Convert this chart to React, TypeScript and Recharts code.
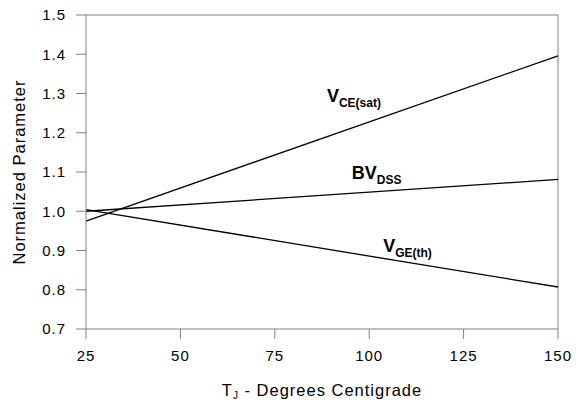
import { LineChart, Line, XAxis, YAxis, ReferenceLine, ReferenceDot, Label } from "recharts";

const temps = [25, 150];
const vceSat = [0.975, 1.396];
const bvDss = [1.0, 1.081];
const vgeTh = [1.004, 0.807];

const xTicks = [25, 50, 75, 100, 125, 150];
const yTicks = [0.7, 0.8, 0.9, 1.0, 1.1, 1.2, 1.3, 1.4, 1.5];

// curve labels: main text, subscript, anchor in data units
const curveLabels = [
  { main: "V", sub: "CE(sat)", t: 88.8, v: 1.278 },
  { main: "BV", sub: "DSS", t: 95.4, v: 1.082 },
  { main: "V", sub: "GE(th)", t: 103.7, v: 0.896 },
];

const data = temps.map((t, i) => ({ t, vce: vceSat[i], bv: bvDss[i], vge: vgeTh[i] }));

const FONT = "Arial, 'Liberation Sans', sans-serif";
const AXIS = "#808080";

function CurveText({ cx, cy, main, sub }: any) {
  return (
    <text x={cx} y={cy} fontFamily={FONT} fontWeight="bold" fill="#000">
      <tspan fontSize={18}>{main}</tspan>
      <tspan fontSize={12} dy={5}>{sub}</tspan>
    </text>
  );
}

function XTitle({ viewBox }: any) {
  const cx = viewBox.x + viewBox.width / 2;
  return (
    <text x={cx} y={396} textAnchor="middle" fontFamily={FONT} fontSize={16.5} letterSpacing={1} fill="#000">
      <tspan>T</tspan>
      <tspan fontSize={10} dy={3}>J</tspan>
      <tspan dy={-3}> - Degrees Centigrade</tspan>
    </text>
  );
}

function YTitle({ viewBox }: any) {
  const cy = viewBox.y + viewBox.height / 2;
  return (
    <text
      x={25}
      y={cy}
      transform={`rotate(-90, 25, ${cy})`}
      textAnchor="middle"
      fontFamily={FONT}
      fontSize={16.5}
      letterSpacing={1}
      fill="#000"
    >
      Normalized Parameter
    </text>
  );
}

export default function App() {
  return (
    <div style={{ position: "absolute", left: 0, top: 0, background: "#fff" }}>
      <LineChart width={580} height={403} data={data} margin={{ top: 15, right: 22, left: 0, bottom: 0 }}>
        <XAxis
          dataKey="t"
          type="number"
          domain={[25, 150]}
          ticks={xTicks}
          stroke={AXIS}
          tickSize={10}
          tickMargin={11}
          height={74}
          tick={{ fill: "#000", fontFamily: FONT, fontSize: 15, letterSpacing: 1 }}
        >
          <Label content={XTitle} />
        </XAxis>
        <YAxis
          type="number"
          domain={[0.7, 1.5]}
          ticks={yTicks}
          tickFormatter={(v: number) => v.toFixed(1)}
          stroke={AXIS}
          tickSize={10}
          tickMargin={10}
          width={86}
          tick={{ fill: "#000", fontFamily: FONT, fontSize: 15, letterSpacing: 1 }}
        >
          <Label content={YTitle} />
        </YAxis>
        <ReferenceLine y={1.5} stroke={AXIS} />
        <ReferenceLine x={150} stroke={AXIS} />
        <Line dataKey="vce" stroke="#000" strokeWidth={1.3} dot={false} isAnimationActive={false} />
        <Line dataKey="bv" stroke="#000" strokeWidth={1.3} dot={false} isAnimationActive={false} />
        <Line dataKey="vge" stroke="#000" strokeWidth={1.3} dot={false} isAnimationActive={false} />
        {curveLabels.map((c) => (
          <ReferenceDot
            key={c.sub}
            x={c.t}
            y={c.v}
            r={0}
            shape={(p: any) => <CurveText cx={p.cx} cy={p.cy} main={c.main} sub={c.sub} />}
          />
        ))}
      </LineChart>
    </div>
  );
}
